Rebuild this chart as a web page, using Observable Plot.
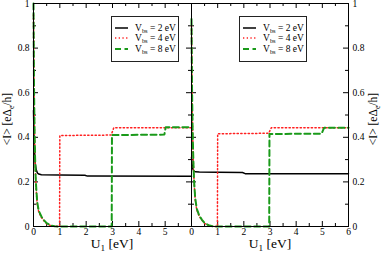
<!DOCTYPE html>
<html>
<head>
<meta charset="utf-8">
<script src="https://cdn.jsdelivr.net/npm/d3@7"></script>
<script src="https://cdn.jsdelivr.net/npm/@observablehq/plot@0.6"></script>
<style>
  body { margin: 0; background: white; }
  #fig { position: relative; width: 382px; height: 254px; font-family: "Liberation Serif", serif; color: black; }
  #fig svg { position: absolute; top: 0; }
  .title { position: absolute; font-size: 13.5px; white-space: nowrap; line-height: 1; }
  .title.ytitle { font-size: 11.5px; }
  .title sub, .leg sub { font-size: 68%; vertical-align: -0.3em; line-height: 0; }
  .legend { position: absolute; border: 1px solid #222; width: 66px; height: 44px; background: white; }
  .leg { position: absolute; left: 0; height: 11px; display: flex; align-items: center; font-size: 9.5px; white-space: nowrap; }
  .leg svg { position: static !important; margin-left: 3px; margin-right: 7px; }
</style>
</head>
<body>
<div id="fig"></div>
<script>
// ---- tick values ----
const xMajor = [0, 1, 2, 3, 4, 5, 6];
const xMinor = [0.5, 1.5, 2.5, 3.5, 4.5, 5.5];
const yMajor = [0, 0.2, 0.4, 0.6, 0.8, 1];
const yMinor = [0.1, 0.3, 0.5, 0.7, 0.9];
const xLabelsLeft = [0, 1, 2, 3, 4, 5];
const xLabelsRight = [0, 1, 2, 3, 4, 5, 6];

// ---- series names ----
const seriesNames = ["2 eV", "4 eV", "8 eV"];

// ---- left panel data ----
const u1_L_V2 = [0, 0.03, 0.06, 0.1, 0.15, 0.2, 0.3, 1.0, 1.95, 2.05, 6];
const I_L_V2  = [0.52, 0.36, 0.29, 0.255, 0.24, 0.235, 0.232, 0.231, 0.23, 0.226, 0.225];
const u1_L_V4 = [0, 0.02, 0.04, 0.06, 0.08, 0.1, 0.14, 0.2, 0.3, 0.4, 0.5, 0.65, 0.8, 0.99, 1.0, 2.95, 3.05, 6];
const I_L_V4  = [0.95, 0.6, 0.42, 0.3, 0.22, 0.17, 0.1, 0.065, 0.04, 0.025, 0.012, 0.004, 0.001, 0, 0.408, 0.41, 0.443, 0.443];
const u1_L_V8 = [0, 0.02, 0.04, 0.06, 0.08, 0.1, 0.14, 0.2, 0.3, 0.4, 0.5, 0.65, 0.8, 1.0, 2.97, 2.98, 4.97, 5.02, 6];
const I_L_V8  = [1.0, 0.62, 0.43, 0.31, 0.23, 0.18, 0.11, 0.07, 0.045, 0.028, 0.015, 0.005, 0.001, 0, 0, 0.41, 0.412, 0.445, 0.445];

// ---- right panel data ----
const u1_R_V2 = [0, 0.03, 0.06, 0.1, 0.15, 0.3, 1.0, 1.95, 2.05, 6];
const I_R_V2  = [0.31, 0.27, 0.255, 0.248, 0.245, 0.244, 0.243, 0.242, 0.237, 0.236];
const u1_R_V4 = [0, 0.02, 0.04, 0.06, 0.08, 0.1, 0.14, 0.2, 0.3, 0.4, 0.5, 0.65, 0.8, 0.99, 1.0, 2.95, 3.05, 6];
const I_R_V4  = [0.9, 0.6, 0.44, 0.33, 0.25, 0.2, 0.12, 0.075, 0.045, 0.028, 0.014, 0.005, 0.001, 0, 0.416, 0.418, 0.443, 0.443];
const u1_R_V8 = [0, 0.02, 0.04, 0.06, 0.08, 0.1, 0.14, 0.2, 0.3, 0.4, 0.5, 0.65, 0.8, 1.0, 2.97, 2.98, 4.97, 5.07, 6];
const I_R_V8  = [0.93, 0.62, 0.45, 0.34, 0.26, 0.2, 0.13, 0.08, 0.048, 0.03, 0.016, 0.006, 0.001, 0, 0, 0.415, 0.416, 0.443, 0.443];

// ---- styles ----
const styles = [
  {stroke: "black", strokeWidth: 1.5, strokeDasharray: null},
  {stroke: "#ff2020", strokeWidth: 1.5, strokeDasharray: "1.3,2.4"},
  {stroke: "#1a9a1a", strokeWidth: 2, strokeDasharray: "6,3.5"}
];

const H = 254, MT = 3, MB = 28;
const FH = H - MT - MB;

function toRows(xs, ys) { return xs.map((x, i) => ({x, y: ys[i]})); }

function panel({width, marginLeft, marginRight, yAnchor, xLabels, series}) {
  const FW = width - marginLeft - marginRight;
  const marks = [
    Plot.tickX(xMajor, {x: d => d, insetTop: FH - 5, stroke: "black"}),
    Plot.tickX(xMajor, {x: d => d, insetBottom: FH - 5, stroke: "black"}),
    Plot.tickX(xMinor, {x: d => d, insetTop: FH - 3, stroke: "black"}),
    Plot.tickX(xMinor, {x: d => d, insetBottom: FH - 3, stroke: "black"}),
    Plot.tickY(yMajor, {y: d => d, insetRight: FW - 5, stroke: "black"}),
    Plot.tickY(yMajor, {y: d => d, insetLeft: FW - 5, stroke: "black"}),
    Plot.tickY(yMinor, {y: d => d, insetRight: FW - 3, stroke: "black"}),
    Plot.tickY(yMinor, {y: d => d, insetLeft: FW - 3, stroke: "black"}),
    Plot.axisX(xLabels, {tickSize: 0, tickPadding: 2, label: null, fontSize: 9.5}),
    Plot.axisY(yMajor, {anchor: yAnchor, tickSize: 0, tickPadding: 4, label: null, fontSize: 9.5, tickFormat: d => String(d)}),
    ...series.map((s, i) => Plot.line(toRows(s[0], s[1]), {x: "x", y: "y", ...styles[i], strokeLinejoin: "round"})),
    Plot.frame({stroke: "black", strokeWidth: 1})
  ];
  return Plot.plot({
    width, height: H,
    marginLeft, marginRight, marginTop: MT, marginBottom: MB,
    x: {domain: [0, 6]},
    y: {domain: [0, 1]},
    style: {background: "transparent", fontFamily: "Liberation Serif, serif", fontSize: "9.5px", overflow: "visible", maxWidth: "none"},
    marks
  });
}

const fig = document.getElementById("fig");

const left = panel({
  width: 192, marginLeft: 33, marginRight: 1, yAnchor: "left", xLabels: xLabelsLeft,
  series: [[u1_L_V2, I_L_V2], [u1_L_V4, I_L_V4], [u1_L_V8, I_L_V8]]
});
left.style.left = "0px";
fig.appendChild(left);

const right = panel({
  width: 192, marginLeft: 1, marginRight: 34, yAnchor: "right", xLabels: xLabelsRight,
  series: [[u1_R_V2, I_R_V2], [u1_R_V4, I_R_V4], [u1_R_V8, I_R_V8]]
});
right.style.left = "190px";
fig.appendChild(right);

// ---- legends ----
function legend(left, top) {
  const box = document.createElement("div");
  box.className = "legend";
  box.style.left = left + "px";
  box.style.top = top + "px";
  seriesNames.forEach((name, i) => {
    const row = document.createElement("div");
    row.className = "leg";
    row.style.top = (5 + i * 10.5) + "px";
    const s = styles[i];
    row.innerHTML =
      `<svg width="13" height="4"><line x1="0" x2="13" y1="2" y2="2" stroke="${s.stroke}" stroke-width="${s.strokeWidth}" ${s.strokeDasharray ? `stroke-dasharray="${s.strokeDasharray}"` : ""}/></svg>` +
      `<span>V<sub>bs</sub> = ${name}</span>`;
    box.appendChild(row);
  });
  fig.appendChild(box);
}
legend(111, 16);
legend(239, 16);

// ---- titles ----
function title(html, x, y, rotate) {
  const d = document.createElement("div");
  d.className = "title" + (rotate ? " ytitle" : "");
  d.innerHTML = html;
  d.style.left = x + "px";
  d.style.top = y + "px";
  d.style.transform = `translate(-50%, -50%)${rotate ? " rotate(-90deg)" : ""}`;
  fig.appendChild(d);
}
title("U<sub>1</sub> [eV]", 112, 244, false);
title("U<sub>1</sub> [eV]", 270, 244, false);
title("&lt;I&gt; [eΔ<sub>e</sub>/h]", 8, 119, true);
title("&lt;I&gt; [eΔ<sub>e</sub>/h]", 374, 119, true);
</script>
</body>
</html>
